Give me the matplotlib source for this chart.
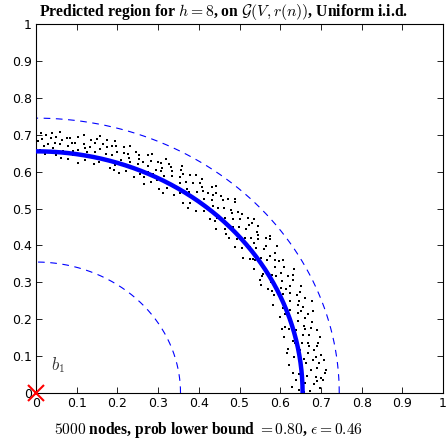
import numpy as np
import matplotlib
matplotlib.use("Agg")
import matplotlib.pyplot as plt
from matplotlib.ticker import FormatStrFormatter

plt.rcParams['mathtext.fontset'] = 'cm'

# ---- data ----
r_pred = 0.655          # predicted radius (thick arc)
r_inner = 0.355         # inner bound (dashed)
r_outer = 0.745         # outer bound (dashed)
ticks = [0, 0.1, 0.2, 0.3, 0.4, 0.5, 0.6, 0.7, 0.8, 0.9, 1]

# observed node positions: (angle in degrees, radius)
node_ang = [0.5, 0.8, 1.2, 1.5, 2.0, 2.3, 2.8, 3.1, 3.6, 4.0, 4.4, 4.9, 5.3, 5.7, 6.2, 6.6, 7.0, 7.5, 7.9, 8.4, 8.8, 9.2, 9.7, 10.1,
            10.5, 10.9, 11.4, 11.8, 12.3, 12.7, 13.2, 13.6, 14.1, 14.5, 15.0, 15.4, 15.9, 16.3, 16.8, 17.2, 17.7, 18.1, 18.6, 19.0, 19.5, 19.9,
            20.4, 20.8, 21.3, 21.7, 22.2, 22.6, 23.1, 23.5, 24.0, 24.4, 24.9, 25.3, 25.8, 26.2, 26.7, 27.1, 27.6, 28.0, 28.5, 28.9, 29.4, 29.8,
            30.3, 30.7, 31.2, 31.6, 32.1, 32.5, 33.0, 33.4, 33.9, 34.3, 34.8, 35.2, 35.7, 36.1, 36.6, 37.0, 37.5, 37.9, 38.4, 38.8, 39.3, 39.7,
            40.2, 40.6, 41.1, 41.5, 42.0, 42.4, 42.9, 43.3, 43.8, 44.2, 44.7, 45.1, 45.6, 46.0, 46.5, 46.9, 47.4, 47.8, 48.3, 48.7, 49.2, 49.6,
            50.1, 50.5, 51.0, 51.4, 51.9, 52.3, 52.8, 53.2, 53.7, 54.1, 54.6, 55.0, 55.5, 55.9, 56.4, 56.8, 57.3, 57.7, 58.2, 58.6, 59.1, 59.5,
            60.0, 60.4, 60.9, 61.3, 61.8, 62.2, 62.7, 63.1, 63.6, 64.0, 64.5, 64.9, 65.4, 65.8, 66.3, 66.7, 67.2, 67.6, 68.1, 68.5, 69.0, 69.4,
            69.9, 70.3, 70.8, 71.2, 71.7, 72.1, 72.6, 73.0, 73.5, 73.9, 74.4, 74.8, 75.3, 75.7, 76.2, 76.6, 77.1, 77.5, 78.0, 78.4, 78.9, 79.3,
            79.8, 80.2, 80.7, 81.1, 81.6, 82.0, 82.5, 82.9, 83.4, 83.8, 84.3, 84.7, 85.2, 85.6, 86.1, 86.5, 87.0, 87.4, 87.9, 88.3, 88.8, 89.2, 89.6,
            1.7, 3.3, 4.6, 6.9, 8.1, 9.9, 11.1, 12.0, 13.9, 14.8, 16.1, 17.9, 19.3, 21.0, 22.9, 23.8, 25.6, 26.9, 28.3, 29.1,
            31.0, 32.8, 34.6, 35.9, 37.2, 38.1, 39.9, 41.3, 42.7, 43.9, 45.3, 46.7, 48.1, 49.4, 50.8, 52.0, 53.4, 54.9, 56.1, 57.5,
            58.9, 60.2, 61.6, 63.3, 64.2, 65.6, 67.0, 68.3, 69.7, 71.0, 72.4, 73.7, 75.1, 76.4, 77.8, 79.1, 80.5, 81.9, 83.1, 84.5,
            85.9, 86.8, 88.1, 89.0, 5.1, 15.7, 27.9, 36.4, 44.5, 53.9, 62.9, 71.5, 78.7, 87.6, 2.6, 7.2, 18.9, 24.7, 33.7, 40.9,
            47.1, 59.8, 66.0, 74.1, 82.2, 0.2, 10.7, 20.1, 30.1, 39.0, 51.7, 57.0, 63.8, 70.6, 77.3, 85.0]
node_rad = [0.672, 0.645, 0.698, 0.628, 0.684, 0.661, 0.705, 0.639, 0.690, 0.668, 0.712, 0.633, 0.679, 0.695, 0.652, 0.701, 0.626, 0.687, 0.664, 0.708, 0.641, 0.676, 0.693, 0.658,
            0.703, 0.631, 0.682, 0.667, 0.714, 0.646, 0.689, 0.674, 0.627, 0.699, 0.661, 0.684, 0.706, 0.638, 0.672, 0.692, 0.653, 0.717, 0.679, 0.634, 0.697, 0.664,
            0.686, 0.648, 0.709, 0.671, 0.629, 0.694, 0.657, 0.681, 0.712, 0.643, 0.688, 0.667, 0.701, 0.636, 0.676, 0.695, 0.651, 0.718, 0.684, 0.662, 0.698, 0.640,
            0.679, 0.706, 0.655, 0.689, 0.631, 0.672, 0.699, 0.663, 0.714, 0.646, 0.683, 0.692, 0.625, 0.668, 0.703, 0.657, 0.686, 0.641, 0.675, 0.697, 0.662, 0.709,
            0.648, 0.681, 0.694, 0.633, 0.671, 0.705, 0.659, 0.688, 0.642, 0.676, 0.699, 0.627, 0.665, 0.691, 0.712, 0.651, 0.683, 0.638, 0.673, 0.696, 0.656, 0.702,
            0.644, 0.678, 0.691, 0.632, 0.669, 0.706, 0.653, 0.685, 0.640, 0.674, 0.697, 0.628, 0.662, 0.689, 0.711, 0.648, 0.680, 0.636, 0.671, 0.694, 0.657, 0.700,
            0.643, 0.677, 0.688, 0.630, 0.666, 0.703, 0.650, 0.684, 0.637, 0.672, 0.695, 0.626, 0.660, 0.690, 0.708, 0.645, 0.679, 0.634, 0.670, 0.693, 0.655, 0.699,
            0.641, 0.676, 0.687, 0.629, 0.664, 0.701, 0.649, 0.683, 0.636, 0.671, 0.694, 0.658, 0.689, 0.707, 0.646, 0.680, 0.638, 0.669, 0.692, 0.654, 0.698, 0.643,
            0.675, 0.686, 0.631, 0.667, 0.702, 0.651, 0.684, 0.639, 0.673, 0.696, 0.660, 0.690, 0.709, 0.648, 0.679, 0.664, 0.693, 0.655, 0.700, 0.671, 0.688, 0.659, 0.682,
            0.655, 0.702, 0.648, 0.669, 0.694, 0.627, 0.706, 0.651, 0.711, 0.683, 0.629, 0.701, 0.648, 0.693, 0.705, 0.663, 0.642, 0.709, 0.671, 0.631,
            0.697, 0.684, 0.639, 0.711, 0.673, 0.694, 0.652, 0.713, 0.636, 0.701, 0.685, 0.641, 0.707, 0.669, 0.699, 0.687, 0.626, 0.709, 0.666, 0.702,
            0.684, 0.626, 0.697, 0.711, 0.658, 0.642, 0.702, 0.683, 0.667, 0.709, 0.634, 0.697, 0.671, 0.695, 0.705, 0.666, 0.709, 0.684, 0.697, 0.641,
            0.696, 0.705, 0.648, 0.706, 0.716, 0.645, 0.626, 0.715, 0.655, 0.691, 0.675, 0.685, 0.681, 0.676, 0.691, 0.713, 0.688, 0.676, 0.648, 0.702,
            0.719, 0.712, 0.674, 0.711, 0.662, 0.658, 0.683, 0.722, 0.644, 0.628, 0.715, 0.655, 0.694, 0.651, 0.715, 0.677]

title = r"Predicted region for $h = 8$, on $\mathcal{G}(V, r(n))$, Uniform i.i.d."
xlabel = r"$5000$ nodes, prob lower bound $= 0.80$, $\epsilon = 0.46$"

# ---- plot ----
fig = plt.figure(figsize=(4.48, 4.41), dpi=100)
ax = fig.add_axes([0.0804, 0.1088, 0.9085, 0.8367])

theta = np.linspace(0, np.pi / 2, 300)
ax.plot(r_inner * np.cos(theta), r_inner * np.sin(theta), color='blue', lw=0.8, dashes=(6, 5))
ax.plot(r_outer * np.cos(theta), r_outer * np.sin(theta), color='blue', lw=0.8, dashes=(6, 5))

a = np.radians(node_ang)
rr = np.array(node_rad)
ax.scatter(rr * np.cos(a), rr * np.sin(a), s=4.5, c='black', marker='s', linewidths=0, zorder=3)

ax.plot(r_pred * np.cos(theta), r_pred * np.sin(theta), color='blue', lw=3.2, zorder=4)

ax.plot([0], [0], marker='x', color='red', markersize=11, mew=1.5, clip_on=False, zorder=5)
ax.text(0.038, 0.062, r"$b_1$", fontsize=12, color='#333333')

ax.set_xlim(0, 1)
ax.set_ylim(0, 1)
ax.set_xticks(ticks)
ax.set_yticks(ticks)
ax.xaxis.set_major_formatter(FormatStrFormatter('%g'))
ax.yaxis.set_major_formatter(FormatStrFormatter('%g'))
ax.tick_params(direction='in', top=True, right=True, labelsize=9, length=4, width=0.6, pad=3)
for sp in ax.spines.values():
    sp.set_linewidth(0.8)

ax.set_title(title, fontsize=11.3, fontweight='bold', family='Liberation Serif', pad=6, x=0.462)
ax.set_xlabel(xlabel, fontsize=11.2, fontweight='bold', family='Liberation Serif', labelpad=6)
ax.xaxis.set_label_coords(0.425, -0.072)

fig.savefig("out.png", dpi=100)
